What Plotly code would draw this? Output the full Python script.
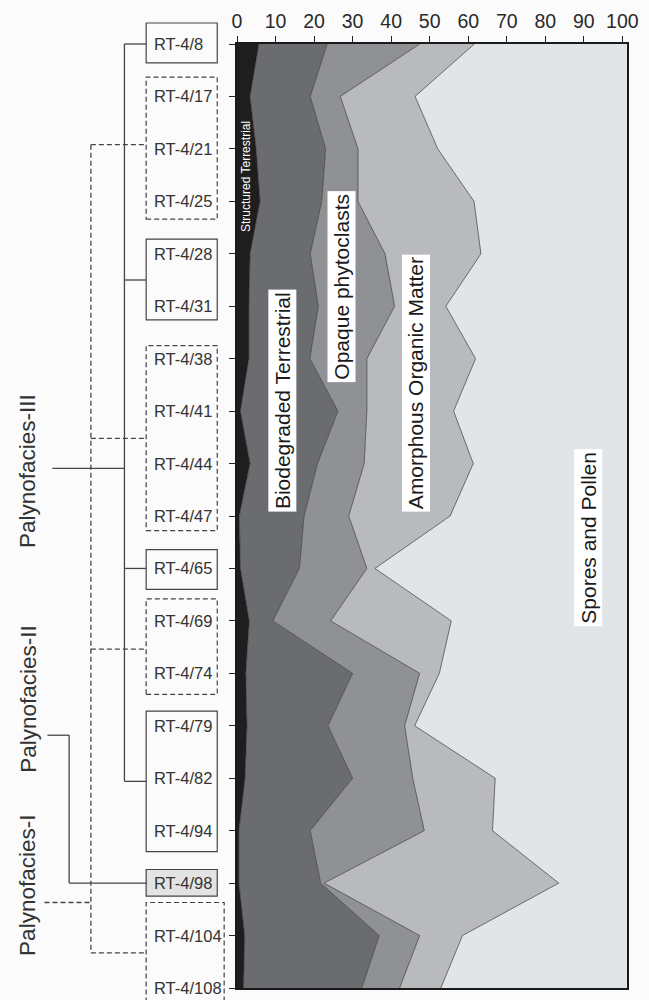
import plotly.graph_objects as go

# Samples, top of section to bottom
samples = ["RT-4/8", "RT-4/17", "RT-4/21", "RT-4/25", "RT-4/28", "RT-4/31",
           "RT-4/38", "RT-4/41", "RT-4/44", "RT-4/47", "RT-4/65", "RT-4/69",
           "RT-4/74", "RT-4/79", "RT-4/82", "RT-4/94", "RT-4/98", "RT-4/104",
           "RT-4/108"]

# Kerogen components (%)
structured_terrestrial = [5.7, 3.4, 5.0, 6.0, 3.4, 3.1, 3.1, 0.9, 3.4, 0.6,
                          0.9, 3.2, 2.3, 2.6, 2.1, 0.5, 0.5, 2.0, 1.7]
biodegraded_terrestrial = [17.7, 15.6, 18.0, 16.0, 15.6, 18.0, 15.8, 25.3, 17.5, 16.8,
                           15.3, 6.1, 27.7, 21.0, 27.9, 18.5, 21.2, 34.9, 30.7]
opaque_phytoclasts = [24.0, 7.8, 8.4, 9.4, 19.4, 19.8, 14.8, 7.5, 12.1, 11.6,
                      17.5, 15.0, 17.4, 19.9, 15.6, 29.6, 0.9, 10.5, 9.8]
amorphous_organic_matter = [14.2, 19.4, 20.7, 30.1, 24.9, 13.3, 28.2, 22.5, 28.3, 26.3,
                            2.1, 31.3, 5.1, 2.6, 21.4, 17.7, 60.9, 11.1, 10.7]
spores_and_pollen = [38.4, 53.8, 47.9, 38.5, 36.7, 45.8, 38.1, 43.8, 38.7, 44.7,
                     64.2, 44.4, 47.5, 53.9, 33.0, 33.7, 16.5, 41.5, 47.1]

x_ticks = [0, 10, 20, 30, 40, 50, 60, 70, 80, 90, 100]

components = [
    ("Structured Terrestrial", structured_terrestrial, "#1e1e1e"),
    ("Biodegraded Terrestrial", biodegraded_terrestrial, "#6a6c6f"),
    ("Opaque phytoclasts", opaque_phytoclasts, "#8f9194"),
    ("Amorphous Organic Matter", amorphous_organic_matter, "#b8babd"),
    ("Spores and Pollen", spores_and_pollen, "#e2e5e8"),
]

# Sample boxes: first, last, style, pad above, pad below (rows), right edge (px)
sample_boxes = [
    ("RT-4/8", "RT-4/8", "solid", 0.40, 0.36, 217),
    ("RT-4/17", "RT-4/25", "dash", 0.37, 0.34, 217),
    ("RT-4/28", "RT-4/31", "solid", 0.28, 0.26, 217),
    ("RT-4/38", "RT-4/47", "dash", 0.25, 0.28, 217),
    ("RT-4/65", "RT-4/65", "solid", 0.36, 0.40, 217),
    ("RT-4/69", "RT-4/74", "dash", 0.42, 0.40, 217),
    ("RT-4/79", "RT-4/94", "solid", 0.28, 0.40, 217),
    ("RT-4/98", "RT-4/98", "shaded", 0.26, 0.25, 217),
    ("RT-4/104", "RT-4/108", "dash", 0.63, 0.60, 224),
]

FONT = "Liberation Sans, Arial, sans-serif"
W, H = 649, 1000
M_L, M_R, M_T, M_B = 237, 17, 42, 10
N = len(samples)
X_MAX = 101.2
LINE_COL = "#454545"
DASH = "5px,3px"


def row(name):
    return samples.index(name)


def py(r):
    """row position -> paper y (y axis spans rows N-1 .. 0)"""
    return 1 - r / (N - 1)


def px(x):
    """page column -> paper x"""
    return (x - M_L) / (W - M_L - M_R)


fig = go.Figure()

for i, (name, vals, col) in enumerate(components):
    last = i == len(components) - 1
    fig.add_trace(go.Scatter(
        x=vals, y=samples, name=name, mode="lines",
        stackgroup="kerogen", orientation="h",
        line=dict(color="#3a3a3a", width=0 if last else 0.7),
        fillcolor=col, hoverinfo="x+y+name",
    ))

shapes = []
annotations = []

# Sample boxes and their labels
for first, last, style, pad_t, pad_b, right in sample_boxes:
    r0, r1 = row(first), row(last)
    shapes.append(dict(
        type="rect", xref="paper", yref="paper",
        x0=px(145), x1=px(right), y0=py(r1 + pad_b), y1=py(r0 - pad_t),
        line=dict(color=LINE_COL, width=1.2, dash=DASH if style == "dash" else "solid"),
        fillcolor="#e3e3e3" if style == "shaded" else "rgba(0,0,0,0)",
        layer="above",
    ))
for s in samples:
    annotations.append(dict(
        text=s, xref="paper", yref="y", x=px(151), y=s,
        xanchor="left", yanchor="middle", showarrow=False,
        font=dict(family=FONT, size=16.5, color="#333333"),
    ))


def seg(x0, r0, x1, r1, dashed=False):
    shapes.append(dict(
        type="line", xref="paper", yref="paper",
        x0=px(x0), x1=px(x1), y0=py(r0), y1=py(r1),
        line=dict(color=LINE_COL, width=1.3, dash=DASH if dashed else "solid"),
        layer="above",
    ))


# Solid dendrogram (Palynofacies-III)
seg(123, 0, 123, 14.06)
for r in (0, 4.5, 10.0, 14.06):
    seg(123, r, 145, r)
seg(50, 8.09, 123, 8.09)

# Palynofacies-II branch to RT-4/98
seg(45, 13.18, 67, 13.18)
seg(67, 13.18, 67, 16.0)
seg(67, 16.0, 146, 16.0)

# Dashed dendrogram (Palynofacies-I)
seg(89, 1.92, 89, 17.33, dashed=True)
for r in (1.92, 7.52, 11.54, 17.33):
    seg(89, r, 145, r, dashed=True)
seg(42, 16.37, 89, 16.37, dashed=True)

# Group labels
for text, r in (("Palynofacies-III", 8.15), ("Palynofacies-II", 12.49), ("Palynofacies-I", 16.04)):
    annotations.append(dict(
        text=text, xref="paper", yref="y", x=px(25), y=r,
        textangle=-90, showarrow=False, xanchor="center", yanchor="middle",
        font=dict(family=FONT, size=22.5, color="#333333"),
    ))

# Component labels inside the plot
annotations.append(dict(
    text="Structured Terrestrial", xref="x", yref="y", x=2.3, y=2.52,
    textangle=-90, showarrow=False,
    font=dict(family=FONT, size=12, color="#ffffff"),
))
for text, x, r in (("Biodegraded Terrestrial", 11.8, 6.8),
                   ("Opaque phytoclasts", 27.2, 4.63),
                   ("Amorphous Organic Matter", 46.4, 6.47),
                   ("Spores and Pollen", 91.0, 9.42)):
    annotations.append(dict(
        text=text, xref="x", yref="y", x=x, y=r,
        textangle=-90, showarrow=False,
        bgcolor="#ffffff", borderpad=2,
        font=dict(family=FONT, size=21, color="#1a1a1a"),
    ))

fig.update_layout(
    width=W, height=H,
    margin=dict(l=M_L, r=M_R, t=M_T, b=M_B),
    paper_bgcolor="#fbfbfb",
    plot_bgcolor=components[-1][2],
    showlegend=False,
    shapes=shapes,
    annotations=annotations,
    xaxis=dict(
        side="top", range=[0, X_MAX], tickvals=x_ticks,
        ticks="outside", ticklen=6, tickwidth=1.2, tickcolor="#222222",
        showgrid=False, zeroline=False,
        showline=True, linecolor="#1a1a1a", linewidth=1.8, mirror=True,
        tickfont=dict(family=FONT, size=19.5, color="#2a2a2a"),
    ),
    yaxis=dict(
        type="category", range=[N - 1, 0],
        ticks="outside", ticklen=6, tickwidth=1.2, tickcolor="#222222",
        showticklabels=False, showgrid=False, zeroline=False,
        showline=True, linecolor="#1a1a1a", linewidth=1.8, mirror=True,
    ),
)

fig.write_html("out.html")
